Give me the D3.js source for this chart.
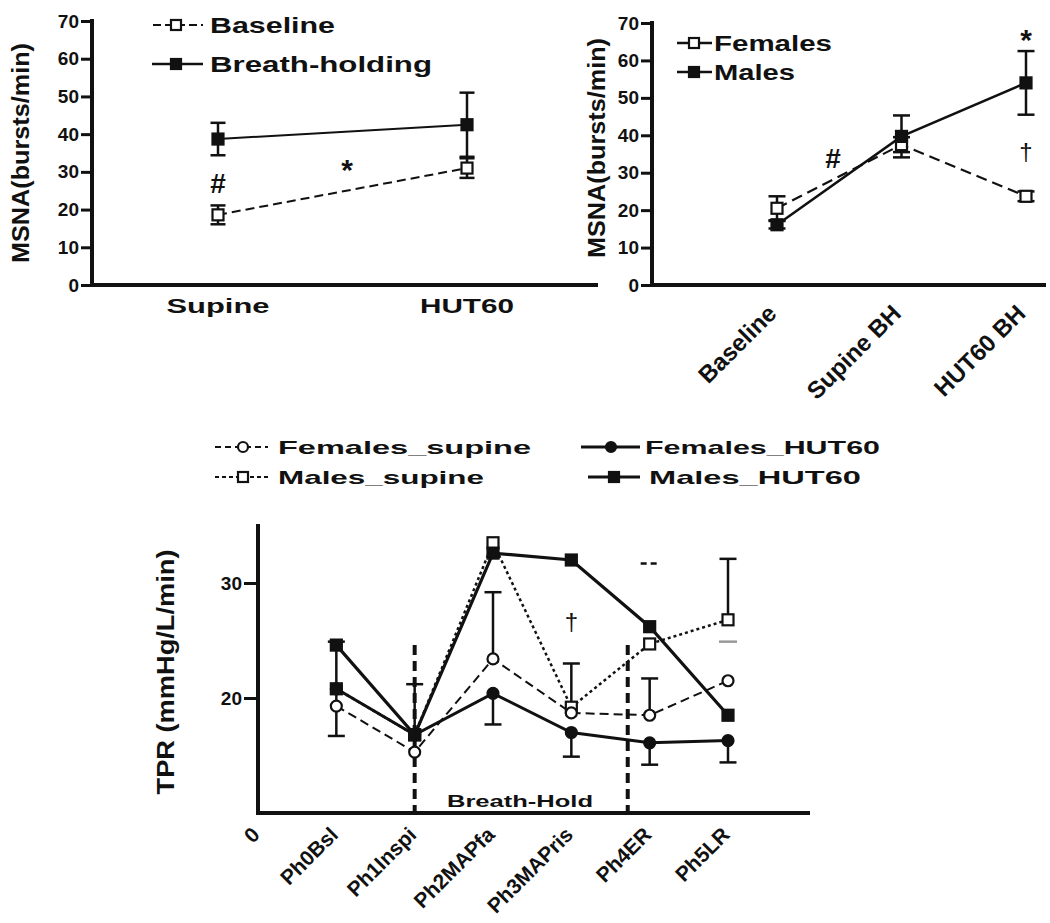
<!DOCTYPE html>
<html><head><meta charset="utf-8">
<script src="https://cdn.jsdelivr.net/npm/d3@7"></script>
<style>
body{margin:0;background:#fff}
svg{display:block}
text{font-family:"Liberation Sans",Arial,sans-serif;font-weight:bold;fill:#111}
</style>
</head><body>
<svg id="c" width="1050" height="923"></svg>
<script>
// ---------- DATA ----------
// Panel A: MSNA supine vs HUT60
const msnaCategories = ["Supine", "HUT60"];
const msnaBaseline = [18.6, 31.0];
const msnaBaselineErr = [2.5, 2.6];
const msnaBreathHolding = [38.7, 42.5];
const msnaBreathHoldingErr = [4.3, 8.5];
const msnaTicks = [0, 10, 20, 30, 40, 50, 60, 70];

// Panel B: MSNA females vs males
const sexCategories = ["Baseline", "Supine BH", "HUT60 BH"];
const sexFemales = [20.5, 37.5, 23.7];
const sexFemalesErr = [3.2, 2.0, 1.3];
const sexMales = [16.1, 39.7, 54.0];
const sexMalesErr = [1.0, 5.6, 8.5];

// Panel C: TPR by phase
const tprCategories = ["0", "Ph0Bsl", "Ph1Inspi", "Ph2MAPfa", "Ph3MAPris", "Ph4ER", "Ph5LR"];
const tprPhases = ["Ph0Bsl", "Ph1Inspi", "Ph2MAPfa", "Ph3MAPris", "Ph4ER", "Ph5LR"];
const tprTicks = [20, 30];
const tprFemalesSupine = [19.3, 15.3, 23.4, 18.7, 18.5, 21.5];
const tprFemalesHUT60  = [20.8, 16.8, 20.4, 17.0, 16.1, 16.3];
const tprMalesSupine   = [20.8, 16.8, 33.5, 19.2, 24.7, 26.8];
const tprMalesHUT60    = [24.6, 16.8, 32.6, 32.0, 26.2, 18.5];
const tprFemalesSupineErrUp   = [null, 5.9, 5.8, null, 3.2, null];
const tprFemalesHUT60ErrDown  = [null, null, 2.7, 2.1, 1.9, 1.9];
const tprMalesSupineErrUp     = [4.1, null, null, 3.8, null, 5.3];
const tprMalesSupineErrDown   = [4.1, null, null, null, null, null];
// error caps whose stems are hidden in the figure
const tprCapOnlyValues = [31.7, 24.9];
const tprCapOnlyPhases = ["Ph4ER", "Ph5LR"];
// phase dividers (category index, counted from "0") and their top value
const tprDividerIndex = [2, 4.72];
const tprDividerTop = 24.6;

// ---------- DRAW ----------
const svg = d3.select("#c");
const BLACK = "#111";

function fitText(sel, len) { sel.attr("textLength", len).attr("lengthAdjust", "spacingAndGlyphs"); }

function styleAxis(g) {
  g.select(".domain").remove();
  g.selectAll(".tick line").attr("stroke", BLACK).attr("stroke-width", 3);
  g.selectAll(".tick text").attr("fill", BLACK).style("font-weight", "bold");
}

function errBar(g, x, y0, y1, cap, opts = {}) {
  g.append("line").attr("x1", x).attr("x2", x).attr("y1", y0).attr("y2", y1)
    .attr("stroke", BLACK).attr("stroke-width", opts.w || 2.5);
  g.append("line").attr("x1", x - cap / 2).attr("x2", x + cap / 2).attr("y1", y1).attr("y2", y1)
    .attr("stroke", BLACK).attr("stroke-width", opts.w || 2.5);
}

function square(g, x, y, s, filled) {
  g.append("rect").attr("x", x - s / 2).attr("y", y - s / 2).attr("width", s).attr("height", s)
    .attr("fill", filled ? BLACK : "#fff").attr("stroke", BLACK).attr("stroke-width", 2.2);
}
function circle(g, x, y, r, filled) {
  g.append("circle").attr("cx", x).attr("cy", y).attr("r", r)
    .attr("fill", filled ? BLACK : "#fff").attr("stroke", BLACK).attr("stroke-width", 2.2);
}

// ===== Panel A =====
{
  const g = svg.append("g");
  const x = d3.scalePoint().domain(msnaCategories).range([218, 467]);
  const y = d3.scaleLinear().domain([0, 70]).range([285, 21]);
  const ax = g.append("g").attr("transform", "translate(92,0)")
    .call(d3.axisLeft(y).tickValues(msnaTicks).tickSize(11).tickPadding(2).tickFormat(d3.format("d")));
  styleAxis(ax);
  ax.selectAll(".tick text").style("font-size", "19px");
  g.append("line").attr("x1", 92).attr("x2", 92).attr("y1", 19).attr("y2", 287).attr("stroke", BLACK).attr("stroke-width", 4);
  g.append("line").attr("x1", 90).attr("x2", 598).attr("y1", 285).attr("y2", 285).attr("stroke", BLACK).attr("stroke-width", 4);
  const xl = [[167, 270], [423, 517]];
  msnaCategories.forEach((c, i) => {
    g.append("text").attr("x", x(c)).attr("y", 313).attr("text-anchor", "middle").style("font-size", "21px")
      .text(c).call(fitText, xl[i][1] - xl[i][0]);
  });
  g.append("text").attr("transform", "translate(29,153) rotate(-90)").attr("text-anchor", "middle")
    .style("font-size", "24px").text("MSNA(bursts/min)").call(fitText, 220);
  const line = d3.line().x((d, i) => x(msnaCategories[i])).y(d => y(d));
  g.append("path").datum(msnaBaseline).attr("d", line).attr("fill", "none").attr("stroke", BLACK)
    .attr("stroke-width", 2).attr("stroke-dasharray", "9,5");
  g.append("path").datum(msnaBreathHolding).attr("d", line).attr("fill", "none").attr("stroke", BLACK).attr("stroke-width", 2);
  msnaCategories.forEach((c, i) => {
    errBar(g, x(c), y(msnaBaseline[i]), y(msnaBaseline[i] + msnaBaselineErr[i]), 15);
    errBar(g, x(c), y(msnaBaseline[i]), y(msnaBaseline[i] - msnaBaselineErr[i]), 15);
    errBar(g, x(c), y(msnaBreathHolding[i]), y(msnaBreathHolding[i] + msnaBreathHoldingErr[i]), 15);
    errBar(g, x(c), y(msnaBreathHolding[i]), y(msnaBreathHolding[i] - msnaBreathHoldingErr[i]), 15);
    square(g, x(c), y(msnaBaseline[i]), 11, false);
    square(g, x(c), y(msnaBreathHolding[i]), 11, true);
  });
  g.append("text").attr("x", x("Supine")).attr("y", 193).attr("text-anchor", "middle").style("font-size", "28px").text("#");
  g.append("text").attr("x", 347).attr("y", 180).attr("text-anchor", "middle").style("font-size", "30px").text("*");
  g.append("line").attr("x1", 153).attr("x2", 203).attr("y1", 25).attr("y2", 25).attr("stroke", BLACK).attr("stroke-width", 2).attr("stroke-dasharray", "8,4");
  square(g, 176, 25, 10, false);
  g.append("text").attr("x", 210).attr("y", 33).style("font-size", "22px").text("Baseline").call(fitText, 125);
  g.append("line").attr("x1", 152).attr("x2", 203).attr("y1", 64).attr("y2", 64).attr("stroke", BLACK).attr("stroke-width", 2.5);
  square(g, 176, 64, 10, true);
  g.append("text").attr("x", 210).attr("y", 72).style("font-size", "22px").text("Breath-holding").call(fitText, 222);
}

// ===== Panel B =====
{
  const g = svg.append("g");
  const x = d3.scalePoint().domain(sexCategories).range([777, 1026]);
  const y = d3.scaleLinear().domain([0, 70]).range([285, 23]);
  const ax = g.append("g").attr("transform", "translate(652,0)")
    .call(d3.axisLeft(y).tickValues(msnaTicks).tickSize(11).tickPadding(2).tickFormat(d3.format("d")));
  styleAxis(ax);
  ax.selectAll(".tick text").style("font-size", "19px");
  g.append("line").attr("x1", 652).attr("x2", 652).attr("y1", 21).attr("y2", 287).attr("stroke", BLACK).attr("stroke-width", 4);
  g.append("line").attr("x1", 650).attr("x2", 1046).attr("y1", 285).attr("y2", 285).attr("stroke", BLACK).attr("stroke-width", 4);
  sexCategories.forEach(c => {
    g.append("text").attr("transform", `translate(${x(c) + 1},${315}) rotate(-45)`).attr("text-anchor", "end")
      .style("font-size", "24px").text(c);
  });
  g.append("text").attr("transform", "translate(605,148) rotate(-90)").attr("text-anchor", "middle")
    .style("font-size", "24px").text("MSNA(bursts/min)").call(fitText, 220);
  const line = d3.line().x((d, i) => x(sexCategories[i])).y(d => y(d));
  g.append("path").datum(sexFemales).attr("d", line).attr("fill", "none").attr("stroke", BLACK)
    .attr("stroke-width", 2.2).attr("stroke-dasharray", "11,6");
  g.append("path").datum(sexMales).attr("d", line).attr("fill", "none").attr("stroke", BLACK).attr("stroke-width", 2.5);
  sexCategories.forEach((c, i) => {
    errBar(g, x(c), y(sexFemales[i]), y(sexFemales[i] + sexFemalesErr[i]), 17);
    errBar(g, x(c), y(sexFemales[i]), y(sexFemales[i] - sexFemalesErr[i]), 17);
    errBar(g, x(c), y(sexMales[i]), y(sexMales[i] + sexMalesErr[i]), 17);
    errBar(g, x(c), y(sexMales[i]), y(sexMales[i] - sexMalesErr[i]), 17);
    square(g, x(c), y(sexFemales[i]), 11, false);
    square(g, x(c), y(sexMales[i]), 11, true);
  });
  g.append("text").attr("x", x("HUT60 BH")).attr("y", 50).attr("text-anchor", "middle").style("font-size", "30px").text("*");
  g.append("text").attr("x", x("HUT60 BH")).attr("y", 160).attr("text-anchor", "middle").style("font-size", "24px").style("font-weight", "normal").text("\u2020");
  g.append("text").attr("x", 833).attr("y", 168).attr("text-anchor", "middle").style("font-size", "28px").text("#");
  g.append("line").attr("x1", 677).attr("x2", 712).attr("y1", 43).attr("y2", 43).attr("stroke", BLACK).attr("stroke-width", 2.5);
  square(g, 694, 43, 10, false);
  g.append("text").attr("x", 714).attr("y", 51).style("font-size", "22px").text("Females").call(fitText, 118);
  g.append("line").attr("x1", 677).attr("x2", 712).attr("y1", 72).attr("y2", 72).attr("stroke", BLACK).attr("stroke-width", 2.5);
  square(g, 694, 72, 10, true);
  g.append("text").attr("x", 714).attr("y", 80).style("font-size", "22px").text("Males").call(fitText, 81);
}

// ===== Panel C =====
{
  const g = svg.append("g");
  const x = d3.scalePoint().domain(tprCategories).range([258, 728]);
  const y = d3.scaleLinear().domain([10, 35]).range([813, 525.5]);
  const step = x.step();
  const ax = g.append("g").attr("transform", "translate(258,0)")
    .call(d3.axisLeft(y).tickValues(tprTicks).tickSize(14).tickPadding(2));
  styleAxis(ax);
  ax.selectAll(".tick text").style("font-size", "19px");
  g.append("line").attr("x1", 258).attr("x2", 258).attr("y1", 524).attr("y2", 815).attr("stroke", BLACK).attr("stroke-width", 4);
  g.append("line").attr("x1", 256).attr("x2", 810).attr("y1", 813).attr("y2", 813).attr("stroke", BLACK).attr("stroke-width", 4);
  tprCategories.forEach(c => {
    g.append("text").attr("transform", `translate(${x(c) + 3},${836}) rotate(-45)`).attr("text-anchor", "end")
      .style("font-size", "21px").text(c);
  });
  g.append("text").attr("transform", "translate(174,672) rotate(-90)").attr("text-anchor", "middle")
    .style("font-size", "24px").text("TPR (mmHg/L/min)").call(fitText, 245);
  tprDividerIndex.forEach(k => {
    const xx = x(tprCategories[0]) + k * step;
    g.append("line").attr("x1", xx).attr("x2", xx).attr("y1", y(tprDividerTop)).attr("y2", 813)
      .attr("stroke", BLACK).attr("stroke-width", 4).attr("stroke-dasharray", "10,6");
  });
  g.append("text").attr("x", 520).attr("y", 807).attr("text-anchor", "middle").style("font-size", "17px")
    .text("Breath-Hold").call(fitText, 146);

  const line = d3.line().x((d, i) => x(tprPhases[i])).y(d => y(d));
  g.append("path").datum(tprFemalesSupine).attr("d", line).attr("fill", "none").attr("stroke", BLACK)
    .attr("stroke-width", 2).attr("stroke-dasharray", "9,5");
  g.append("path").datum(tprMalesSupine).attr("d", line).attr("fill", "none").attr("stroke", BLACK)
    .attr("stroke-width", 2.5).attr("stroke-dasharray", "3,3");
  g.append("path").datum(tprFemalesHUT60).attr("d", line).attr("fill", "none").attr("stroke", BLACK).attr("stroke-width", 3);
  g.append("path").datum(tprMalesHUT60).attr("d", line).attr("fill", "none").attr("stroke", BLACK).attr("stroke-width", 3.2);

  tprPhases.forEach((p, i) => {
    const xx = x(p);
    if (tprFemalesSupineErrUp[i] != null) errBar(g, xx, y(tprFemalesSupine[i]), y(tprFemalesSupine[i] + tprFemalesSupineErrUp[i]), 17);
    if (tprFemalesHUT60ErrDown[i] != null) errBar(g, xx, y(tprFemalesHUT60[i]), y(tprFemalesHUT60[i] - tprFemalesHUT60ErrDown[i]), 17);
    if (tprMalesSupineErrUp[i] != null) errBar(g, xx, y(tprMalesSupine[i]), y(tprMalesSupine[i] + tprMalesSupineErrUp[i]), 17);
    if (tprMalesSupineErrDown[i] != null) errBar(g, xx, y(tprMalesSupine[i]), y(tprMalesSupine[i] - tprMalesSupineErrDown[i]), 17);
  });
  tprCapOnlyPhases.forEach((p, i) => {
    g.append("line").attr("x1", x(p) - 9).attr("x2", x(p) + 9).attr("y1", y(tprCapOnlyValues[i])).attr("y2", y(tprCapOnlyValues[i]))
      .attr("stroke", i === 0 ? BLACK : "#999").attr("stroke-width", 2.5).attr("stroke-dasharray", i === 0 ? "6,4" : null);
  });
  tprPhases.forEach((p, i) => {
    const xx = x(p);
    square(g, xx, y(tprMalesSupine[i]), 11, false);
    circle(g, xx, y(tprFemalesSupine[i]), 5.5, false);
    circle(g, xx, y(tprFemalesHUT60[i]), 5.5, true);
    square(g, xx, y(tprMalesHUT60[i]), 11, true);
  });
  g.append("text").attr("x", x("Ph3MAPris")).attr("y", 630).attr("text-anchor", "middle").style("font-size", "24px").style("font-weight", "normal").text("\u2020");

  const lg = svg.append("g");
  lg.append("line").attr("x1", 215).attr("x2", 268).attr("y1", 447).attr("y2", 447).attr("stroke", BLACK).attr("stroke-width", 2).attr("stroke-dasharray", "6,4");
  circle(lg, 243, 447, 5, false);
  lg.append("text").attr("x", 278).attr("y", 454).style("font-size", "19px").text("Females_supine").call(fitText, 253);
  lg.append("line").attr("x1", 215).attr("x2", 268).attr("y1", 477).attr("y2", 477).attr("stroke", BLACK).attr("stroke-width", 2).attr("stroke-dasharray", "4,3");
  square(lg, 243, 477, 10, false);
  lg.append("text").attr("x", 278).attr("y", 484).style("font-size", "19px").text("Males_supine").call(fitText, 206);
  lg.append("line").attr("x1", 581).attr("x2", 640).attr("y1", 447).attr("y2", 447).attr("stroke", BLACK).attr("stroke-width", 3);
  circle(lg, 611, 447, 5, true);
  lg.append("text").attr("x", 645).attr("y", 454).style("font-size", "19px").text("Females_HUT60").call(fitText, 235);
  lg.append("line").attr("x1", 588).attr("x2", 640).attr("y1", 477).attr("y2", 477).attr("stroke", BLACK).attr("stroke-width", 3);
  square(lg, 614, 477, 10, true);
  lg.append("text").attr("x", 649).attr("y", 484).style("font-size", "19px").text("Males_HUT60").call(fitText, 212);
}
</script>
</body></html>
